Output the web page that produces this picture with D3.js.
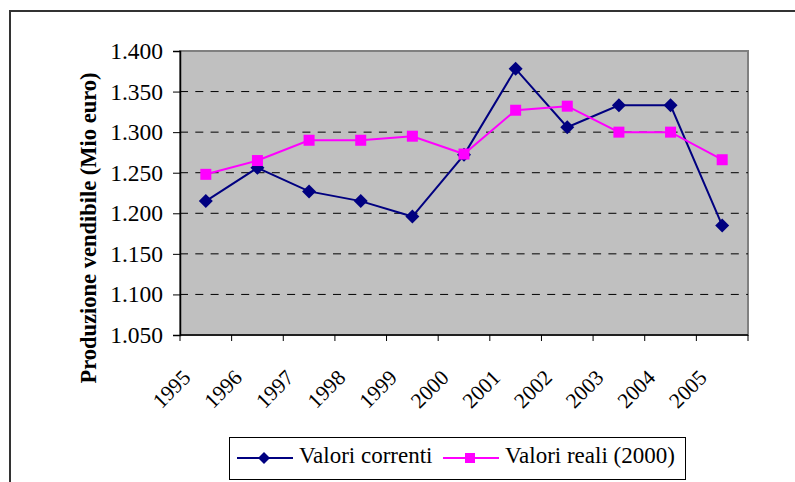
<!DOCTYPE html>
<html>
<head>
<meta charset="utf-8">
<script src="https://cdn.jsdelivr.net/npm/d3@7"></script>
</head>
<body style="margin:0;background:#fff">
<svg id="chart" width="795" height="482"></svg>
<script>
const years = ["1995", "1996", "1997", "1998", "1999", "2000", "2001", "2002", "2003", "2004", "2005"];
const valoriCorrenti = [1215, 1256, 1227, 1215, 1196, 1272, 1378, 1306, 1333, 1333, 1185];
const valoriReali = [1248, 1265, 1290, 1290, 1295, 1273, 1327, 1332, 1300, 1300, 1266];
const yTicks = [1050, 1100, 1150, 1200, 1250, 1300, 1350, 1400];
const seriesNames = ["Valori correnti", "Valori reali (2000)"];

const FONT = "\"Liberation Serif\"";
const svg = d3.select("#chart");

const LEFT = 180;
const RIGHT = 748;
const TOP = 51;
const BOTTOM = 335;

const it = d3.formatLocale({ decimal: ",", thousands: ".", grouping: [3], currency: ["€", ""] });
const fmt = it.format(",");

const x = d3.scaleBand().domain(years).range([LEFT, RIGHT]).padding(0);
const y = d3.scaleLinear().domain([1050, 1400]).range([BOTTOM, TOP]);
const cx = d => x(d) + x.bandwidth() / 2;

// outer chart frame (only top and left are visible)
svg.append("path")
  .attr("d", "M10,482V11H795")
  .attr("fill", "none")
  .attr("stroke", "#333")
  .attr("stroke-width", 2);

// plot area
svg.append("rect")
  .attr("x", LEFT)
  .attr("y", TOP)
  .attr("width", RIGHT - LEFT)
  .attr("height", BOTTOM - TOP)
  .attr("fill", "#c0c0c0")
  .attr("stroke", "#808080")
  .attr("stroke-width", 2);

// grid
svg.append("g")
  .selectAll("line")
  .data(yTicks.slice(1, -1))
  .join("line")
  .attr("x1", LEFT)
  .attr("x2", RIGHT)
  .attr("y1", d => y(d))
  .attr("y2", d => y(d))
  .attr("stroke", "#000")
  .attr("stroke-width", 1)
  .attr("stroke-dasharray", "8,7.3");

// y axis
const yAxis = svg.append("g").attr("transform", `translate(${LEFT},0)`)
  .call(d3.axisLeft(y).tickValues(yTicks).tickFormat(fmt).tickSize(7).tickPadding(10));
yAxis.select(".domain").attr("stroke", "#000").attr("stroke-width", 1.5);
yAxis.selectAll(".tick line").attr("stroke", "#000");
yAxis.selectAll(".tick text")
  .attr("font-size", 23.5)
  .attr("fill", "#000");

// x axis, ticks between categories
const xEdges = years.map(d => x(d)).concat([RIGHT]);
const xAxis = svg.append("g");
xAxis.append("line")
  .attr("x1", LEFT)
  .attr("x2", RIGHT)
  .attr("y1", BOTTOM)
  .attr("y2", BOTTOM)
  .attr("stroke", "#000")
  .attr("stroke-width", 1.5);
xAxis.selectAll(".xtick")
  .data(xEdges)
  .join("line")
  .attr("x1", d => d)
  .attr("x2", d => d)
  .attr("y1", BOTTOM)
  .attr("y2", BOTTOM + 6)
  .attr("stroke", "#000");
xAxis.selectAll(".xlabel")
  .data(years)
  .join("text")
  .attr("text-anchor", "end")
  .attr("font-size", 21.5)
  .attr("transform", d => `translate(${cx(d) - 14},${BOTTOM + 44}) rotate(-45)`)
  .text(d => d);

// axis title
svg.append("text")
  .attr("transform", "translate(96,228) rotate(-90)")
  .attr("text-anchor", "middle")
  .attr("font-size", 22.5)
  .attr("font-weight", "bold")
  .text("Produzione vendibile (Mio euro)");

const line = d3.line().x((d, i) => cx(years[i])).y(d => y(d));
const diamond = s => `M0,${-s}L${s},0L0,${s}L${-s},0Z`;

// Valori correnti
svg.append("path")
  .datum(valoriCorrenti)
  .attr("d", line)
  .attr("fill", "none")
  .attr("stroke", "#000080")
  .attr("stroke-width", 2);
svg.append("g")
  .selectAll("path")
  .data(valoriCorrenti)
  .join("path")
  .attr("d", diamond(7))
  .attr("transform", (d, i) => `translate(${cx(years[i])},${y(d)})`)
  .attr("fill", "#000080");

// Valori reali
svg.append("path")
  .datum(valoriReali)
  .attr("d", line)
  .attr("fill", "none")
  .attr("stroke", "#ff00ff")
  .attr("stroke-width", 2);
svg.append("g")
  .selectAll("rect")
  .data(valoriReali)
  .join("rect")
  .attr("x", (d, i) => cx(years[i]) - 5.5)
  .attr("y", d => y(d) - 5.5)
  .attr("width", 11)
  .attr("height", 11)
  .attr("fill", "#ff00ff");

// legend
const legend = svg.append("g");
legend.append("rect")
  .attr("x", 229.5)
  .attr("y", 437.5)
  .attr("width", 456)
  .attr("height", 42)
  .attr("fill", "#fff")
  .attr("stroke", "#000")
  .attr("stroke-width", 1);

const legendItems = [
  { name: seriesNames[0], color: "#000080", x0: 237, marker: "diamond" },
  { name: seriesNames[1], color: "#ff00ff", x0: 443, marker: "square" }
];
legendItems.forEach(item => {
  const g = legend.append("g");
  g.append("line")
    .attr("x1", item.x0)
    .attr("x2", item.x0 + 56)
    .attr("y1", 458)
    .attr("y2", 458)
    .attr("stroke", item.color)
    .attr("stroke-width", 2);
  if (item.marker === "diamond") {
    g.append("path")
      .attr("d", diamond(6))
      .attr("transform", `translate(${item.x0 + 27},458)`)
      .attr("fill", item.color);
  } else {
    g.append("rect")
      .attr("x", item.x0 + 27 - 5)
      .attr("y", 453)
      .attr("width", 10)
      .attr("height", 10)
      .attr("fill", item.color);
  }
  g.append("text")
    .attr("x", item.x0 + 62)
    .attr("y", 463)
    .attr("font-size", 23)
    .text(item.name);
});

svg.selectAll("text").style("font-family", FONT).style("fill", "#000");
</script>
</body>
</html>
